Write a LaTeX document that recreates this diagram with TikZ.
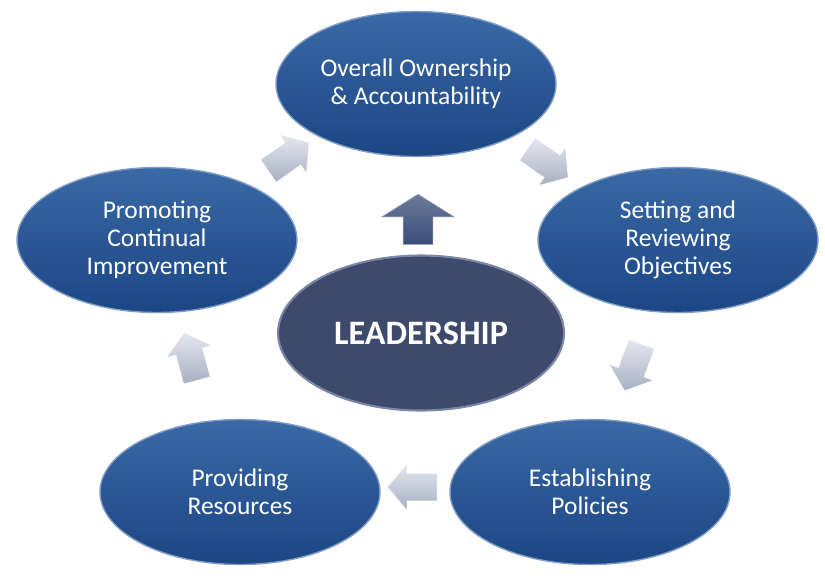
\documentclass[tikz,border=0pt]{standalone}
\usepackage{fontspec}
\setmainfont{Carlito}
\usetikzlibrary{shapes.geometric,shapes.arrows,positioning}

\definecolor{ovaltop}{HTML}{3A69A6}
\definecolor{ovalmid}{HTML}{1F4E8C}
\definecolor{ovalbottom}{HTML}{1B4683}
\definecolor{ovalrim}{HTML}{7F9CC6}
\definecolor{corefill}{HTML}{3D4A6B}
\definecolor{corerim}{HTML}{7A86A3}
\definecolor{arrowlight}{HTML}{E4E8EF}
\definecolor{arrowdark}{HTML}{A7B0C2}
\definecolor{uparrow}{HTML}{3A4E78}

\begin{document}
\begin{tikzpicture}[x=0.02cm,y=-0.02cm,
  every node/.style={
    text=white,
    align=center,
    font=\fontsize{14.5}{16}\selectfont,
  },
  oval/.style={ellipse, inner sep=0pt, minimum width=5.6cm, minimum height=2.9cm,
    top color=ovaltop, middle color=ovalmid, bottom color=ovalbottom,
    draw=ovalrim, line width=0.8pt},
  blockarrow/.style={single arrow, inner xsep=0pt, inner ysep=0.27cm,
    minimum height=1cm, single arrow head extend=0.2cm, single arrow tip angle=100,
    top color=arrowlight, bottom color=arrowdark, draw=white, line width=0.4pt}
]
\useasboundingbox (0,0) rectangle (825,583);

\node[ellipse, inner sep=0pt, minimum width=5.72cm, minimum height=3.1cm,
  fill=corefill, draw=corerim, line width=1.2pt,
  font=\bfseries\fontsize{19.5}{22}\selectfont] (leadership) at (421,333) {LEADERSHIP};

\node[oval] (ownership) at (416,84) {Overall Ownership\\\& Accountability};
\node[oval] (objectives) at (678,240) {Setting and\\Reviewing\\Objectives};
\node[oval] (policies) at (590,492) {Establishing\\Policies};
\node[oval] (resources) at (240,492) {Providing\\Resources};
\node[oval] (improvement) at (157,240) {Promoting\\Continual\\Improvement};

% arrows between the ovals
\node[blockarrow, rotate=35] (toownership) at (284,160) {};
\node[blockarrow, rotate=-35] (toobjectives) at (543,160) {};
\node[blockarrow, rotate=-110] (topolicies) at (635,362) {};
\node[blockarrow, rotate=180] (toresources) at (418,487) {};
\node[blockarrow, rotate=105] (toimprovement) at (192,362) {};

\node[blockarrow, rotate=90, top color=uparrow!75!white, bottom color=uparrow,
  draw=uparrow!60!white, inner ysep=0.29cm, single arrow head extend=0.42cm,
  single arrow tip angle=116] (up) at (418,224) {};
\end{tikzpicture}
\end{document}
